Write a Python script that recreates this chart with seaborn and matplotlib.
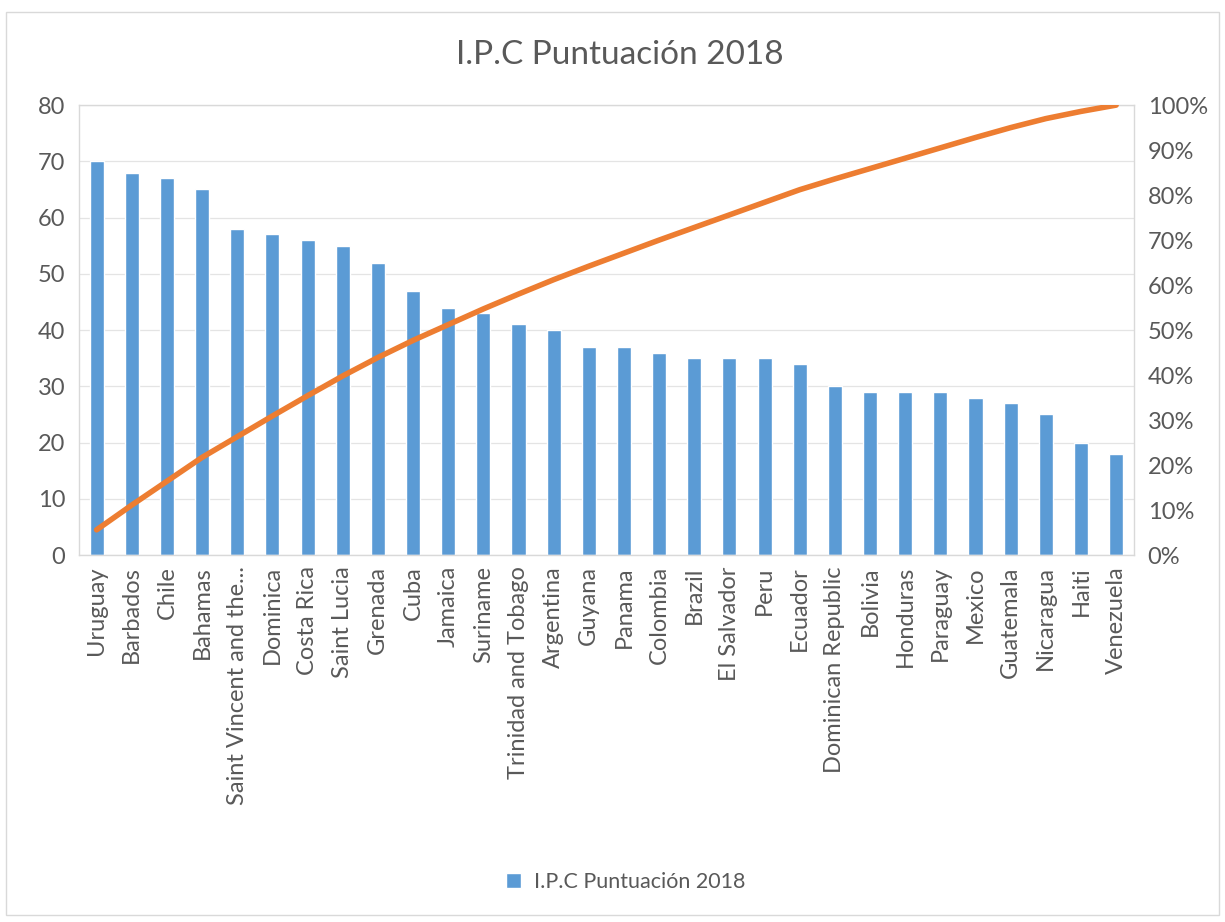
import matplotlib
matplotlib.use("Agg")
import matplotlib.pyplot as plt
import matplotlib.patches as mpatches
from matplotlib.ticker import PercentFormatter
import pandas as pd
import seaborn as sns

# === Data ===
countries = ["Uruguay", "Barbados", "Chile", "Bahamas", "Saint Vincent and the...",
             "Dominica", "Costa Rica", "Saint Lucia", "Grenada", "Cuba", "Jamaica",
             "Suriname", "Trinidad and Tobago", "Argentina", "Guyana", "Panama",
             "Colombia", "Brazil", "El Salvador", "Peru", "Ecuador",
             "Dominican Republic", "Bolivia", "Honduras", "Paraguay", "Mexico",
             "Guatemala", "Nicaragua", "Haiti", "Venezuela"]
scores = [70, 68, 67, 65, 58, 57, 56, 55, 52, 47, 44, 43, 41, 40, 37, 37, 36,
          35, 35, 35, 34, 30, 29, 29, 29, 28, 27, 25, 20, 18]
# cumulative share (%) shown by the orange line
cum_pct = [5.6, 11.1, 16.4, 21.7, 26.3, 30.9, 35.4, 39.8, 43.9, 47.7, 51.2,
           54.7, 58.0, 61.2, 64.2, 67.1, 70.0, 72.8, 75.6, 78.4, 81.2, 83.6,
           85.9, 88.2, 90.5, 92.8, 95.0, 97.0, 98.6, 100.0]

df = pd.DataFrame({"country": countries, "score": scores, "cum": cum_pct})

# === Style ===
sns.set_style("white")
plt.rcParams["font.family"] = ["Lato", "DejaVu Sans"]
text_gray = "#595959"
grid_gray = "#E4E4E4"
spine_gray = "#D9D9D9"
bar_blue = "#5B9BD5"
line_orange = "#ED7D31"

fig = plt.figure(figsize=(12.25, 9.22), dpi=100)
ax = fig.add_axes([0.0645, 0.398, 0.861, 0.488])

sns.barplot(data=df, x="country", y="score", color=bar_blue, width=0.4,
            saturation=1, ax=ax, label="I.P.C Puntuación 2018", zorder=2)
ax.set_ylim(0, 80)
ax.set_yticks(range(0, 81, 10))
ax.yaxis.grid(True, color=grid_gray, linewidth=0.9, zorder=0)
ax.set_axisbelow(True)
ax.set_xlabel("")
ax.set_ylabel("")
ax.tick_params(axis="x", rotation=90, labelsize=17, colors=text_gray, length=0, pad=8)
ax.tick_params(axis="y", labelsize=17, colors=text_gray, length=0, pad=10)
for s in ax.spines.values():
    s.set_color(spine_gray)
    s.set_linewidth(1)

ax2 = ax.twinx()
sns.lineplot(data=df, x="country", y="cum", color=line_orange, linewidth=4,
             ax=ax2, sort=False)
ax2.set_ylim(0, 100)
ax2.set_yticks(range(0, 101, 10))
ax2.yaxis.set_major_formatter(PercentFormatter(decimals=0))
ax2.set_ylabel("")
ax2.tick_params(axis="y", labelsize=17, colors=text_gray, length=0, pad=10)
for s in ax2.spines.values():
    s.set_visible(False)
ax.set_xlim(-0.5, len(countries) - 0.5)

fig.text(0.506, 0.940, "I.P.C Puntuación 2018", ha="center", va="center",
         fontsize=24, color=text_gray)

handles, labels = ax.get_legend_handles_labels()
if ax.get_legend() is not None:
    ax.get_legend().remove()
leg = fig.legend(handles[:1], labels[:1], loc="center", bbox_to_anchor=(0.511, 0.043),
                 frameon=False, fontsize=15.5, handlelength=0.7, handleheight=0.7,
                 handletextpad=0.6)
for t in leg.get_texts():
    t.set_color(text_gray)

# outer chart border
fig.patches.append(mpatches.Rectangle((0.005, 0.008), 0.99, 0.979,
                                      transform=fig.transFigure, fill=False,
                                      edgecolor=spine_gray, linewidth=1))

fig.savefig("out.png", dpi=100, facecolor="white")
